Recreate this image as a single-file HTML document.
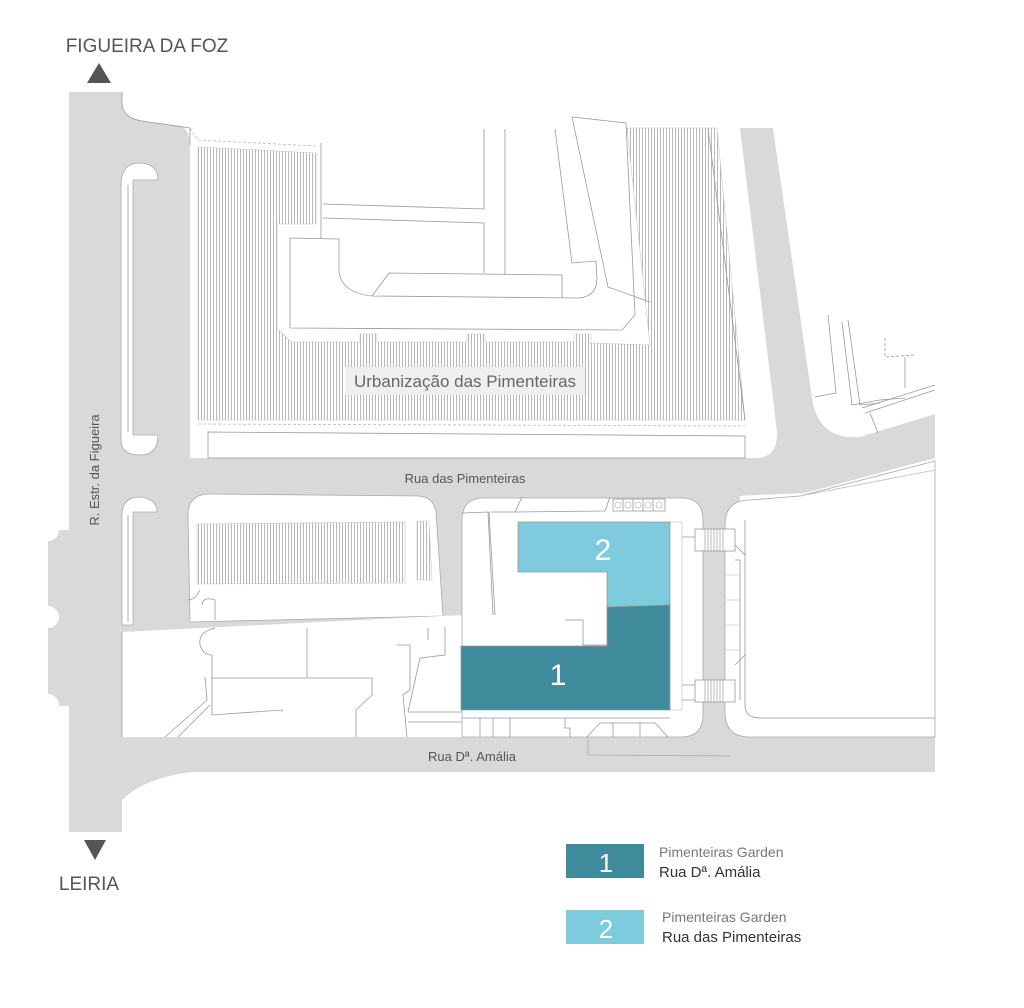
<!DOCTYPE html>
<html><head><meta charset="utf-8"><style>
html,body{margin:0;padding:0;background:#fff;}
svg{display:block;}
text{font-family:"Liberation Sans",sans-serif;}
</style></head><body>
<svg width="1024" height="1008" viewBox="0 0 1024 1008" xmlns="http://www.w3.org/2000/svg">
<defs>
<pattern id="h" width="3" height="10" patternUnits="userSpaceOnUse">
<rect x="0" y="0" width="1" height="10" fill="#b8b8b8"/>
</pattern>
</defs>
<rect width="1024" height="1008" fill="#fff"/>
<g fill="#d9d9d9" stroke="none">
<!-- west main road + parking strip -->
<path d="M69,92 H122 V104 Q123,118 142,121 L180,126 Q190,129 190,145 V630 L122,632 V832 H69 Z"/>
<rect x="48" y="530" width="22" height="176"/>
<!-- Rua das Pimenteiras -->
<rect x="122" y="458" width="620" height="38"/>
<rect x="122" y="458" width="350" height="175"/>
<rect x="430" y="490" width="310" height="282"/>
<!-- NE road -->
<path d="M740,128 L773,128 L812,398 Q818,440 860,437 L935,414 L935,458 L805,493 L712,497 L712,458 L758,458 Q778,456 777,432 Z"/>
<!-- Rua D. Amalia -->
<rect x="122" y="735" width="813" height="37"/>
<path d="M110,770 H220 Q150,772 122,800 L110,800 Z"/>
</g>
<!-- notches -->
<g fill="#fff">
<circle cx="48" cy="530" r="11"/><circle cx="48" cy="617" r="11"/><circle cx="48" cy="705" r="11"/>
</g>
<!-- white blocks -->
<g fill="#fff" stroke="#aaa" stroke-width="0.8">
<path d="M188,515 Q188,494 210,494 L418,496 Q434,497 436,512 L443,616 L190,622 Z"/>
<path d="M122,632 L440,616 L500,614 L500,737 L122,737 Z" stroke="none"/>
<path d="M484,498 L681,498 Q703,498 703,520 L703,714 Q703,737 681,737 L480,737 L462,737 L462,520 Q462,498 484,498 Z"/>
<path d="M725,525 Q725,500 750,500 L800,496 L935,461 V737 H750 Q725,737 725,712 Z"/>
<!-- upper island -->
<path d="M121,440 V185 Q121,163 140,163 Q158,164 158,180 L133,180 V435 L158,435 Q158,455 140,455 Q121,455 121,440 Z"/>
<!-- lower island -->
<path d="M122,625 V515 Q122,497 140,497 Q157,499 157,512 L133,512 V625 Z"/>
</g>
<g stroke="#999" stroke-width="0.8" fill="none">
<line x1="128" y1="185" x2="128" y2="432"/>
<line x1="128" y1="515" x2="128" y2="622"/>
<line x1="122" y1="632" x2="122" y2="737"/>
</g>
<!-- hatch areas -->
<path d="M198,147 L316,153 L316,224 L277,224 L277,328 L291,342 L360,342 L360,334 L377,334 L377,342 L467,342 L467,334 L485,334 L485,342 L574,342 L574,334 L591,334 L591,343 L650,345 L627,128 L717,128 L745,420 L198,420 Z" fill="url(#h)" stroke="#c8c8c8" stroke-width="0.6"/>
<path d="M197,524 L405,522 L405,583 L197,584 Z" fill="url(#h)" stroke="#c8c8c8" stroke-width="0.6"/>
<path d="M417,521 L429,521 L432,580 L417,580 Z" fill="url(#h)" stroke="#c8c8c8" stroke-width="0.6"/>
<!-- block A lines -->
<g stroke="#999" stroke-width="0.8" fill="none">
<path d="M122,92 V104 Q123,118 142,121 L190,128 V145"/>
<path d="M190,128 L198,140 M198,140 L316,146" stroke-dasharray="3,2" stroke="#bbb"/>
<path d="M321,143 V239"/>
<path d="M323,204 L484,209 V129"/>
<path d="M323,218 L484,223 V273"/>
<path d="M505,129 V275"/>
<path d="M290,238 L339,239 L339,272 Q342,293 372,296 L578,298 Q597,297 597,278 L596,261 L572,263 L555,129"/>
<path d="M290,238 V328 L622,330 L635,315 L626,123 L572,117 L608,287 L650,302"/>
<path d="M372,296 L389,273 L562,275 V298"/>
<path d="M208,432 L745,436 L745,458 L208,458 Z"/>
<path d="M198,424 L745,426" stroke-dasharray="3,2" stroke="#bbb"/>
<path d="M708,128 L745,420"/>
<!-- NE right area -->
<path d="M828,315 L836,393 L815,397"/>
<path d="M842,322 L852,405 L880,400 L905,398"/>
<path d="M848,320 L860,405 L880,403"/>
<path d="M885,338 V357 L915,355" stroke-dasharray="3,2"/>
<path d="M905,357 V388"/>
<path d="M862,408 L935,385 M865,413 L935,390"/>
<path d="M870,413 L878,433"/>
<path d="M800,496 L935,470" stroke="#bbb"/>
<!-- block C / E lines -->
<path d="M215,620 L215,600 Q203,596 202,605 M188,600 Q195,600 200,590"/>
<path d="M215,628 Q198,632 200,645 Q203,655 212,655 V678 L372,678 V695 L356,710 V737"/>
<path d="M307,628 V678"/>
<path d="M212,678 V715 L282,710 L282,712"/>
<path d="M205,677 L207,700 L165,737 M210,705 L178,737"/>
<path d="M397,645 L410,645 L410,690 L403,695 L407,737"/>
<path d="M445,627 L445,655 L420,658 L408,712 L462,712"/>
<path d="M408,722 L462,722"/>
<path d="M428,628 V640"/>
<!-- block B lines -->
<path d="M462,513 L488,512 L493,615 M489,512 L495,615"/>
<path d="M490,512 L515,512 L522,497 M515,512 L605,511 L610,497"/>
<path d="M565,620 L583,620 L583,645 L607,645"/>
<path d="M670,522 H682 V710 H670" stroke="#ccc"/>
<path d="M682,537 H695 M682,685 H695 M682,700 H695"/>
<path d="M462,718 H670 M480,718 V737 M493,718 V737 M510,718 V737 M565,718 V728 L570,728 V737"/>
<path d="M587,737 L600,723 H655 L668,737 M613,723 V737 M640,723 V737"/>
<path d="M588,737 V755 L730,756" stroke="#aaa"/>
<!-- crosswalks -->
<rect x="695" y="529" width="40" height="22" fill="#fff"/>
<rect x="695" y="680" width="40" height="22" fill="#fff"/>
<path d="M705,529 V551 M708,529 V551 M711,529 V551 M714,529 V551 M717,529 V551 M720,529 V551 M723,529 V551 M705,680 V702 M708,680 V702 M711,680 V702 M714,680 V702 M717,680 V702 M720,680 V702 M723,680 V702" stroke="#aaa"/>
<path d="M735,560 L740,560 M740,560 V700 M735,545 L745,555 M735,665 L745,655"/>
<path d="M740,575 H725 M740,600 H725 M740,625 H725 M740,650 H725" stroke="#ccc"/>
<path d="M745,520 V705 Q745,718 760,718 H935"/>
<!-- units boxes -->
<path d="M613,499 H665 V511 H613 Z M623,499 V511 M633,499 V511 M643,499 V511 M653,499 V511"/>
</g>
<g fill="none" stroke="#aaa" stroke-width="0.6">
<circle cx="618" cy="505" r="3"/><circle cx="628" cy="505" r="3"/><circle cx="638" cy="505" r="3"/><circle cx="648" cy="505" r="3"/><circle cx="659" cy="505" r="3"/>
</g>
<!-- colored units -->
<path d="M518,522 H670 V605 L607,607 V572 H518 Z" fill="#7ecbdd" stroke="#999" stroke-width="0.8"/>
<path d="M607,607 L670,605 V710 H461 V646 H607 Z" fill="#3f8b9b" stroke="#999" stroke-width="0.8"/>
<text x="603" y="560" font-size="30" fill="#fff" text-anchor="middle">2</text>
<text x="558" y="685" font-size="30" fill="#fff" text-anchor="middle">1</text>
<!-- labels -->
<rect x="345" y="367" width="240" height="28" fill="#efefef"/>
<text x="465" y="387" font-size="17" fill="#666" text-anchor="middle">Urbanização das Pimenteiras</text>
<text x="465" y="483" font-size="13" fill="#555" text-anchor="middle">Rua das Pimenteiras</text>
<text x="472" y="761" font-size="13" fill="#555" text-anchor="middle">Rua Dª. Amália</text>
<text transform="translate(99,470) rotate(-90)" font-size="13" fill="#555" text-anchor="middle">R. Estr. da Figueira</text>
<text x="147" y="52" font-size="19" fill="#555" text-anchor="middle">FIGUEIRA DA FOZ</text>
<path d="M87,83 L99,63 L111,83 Z" fill="#555"/>
<path d="M84,840 L106,840 L95,860 Z" fill="#555"/>
<text x="89" y="890" font-size="19" fill="#555" text-anchor="middle">LEIRIA</text>
<!-- legend -->
<rect x="566" y="844" width="78" height="34" fill="#3f8b9b"/>
<text x="606" y="872" font-size="26" fill="#fff" text-anchor="middle">1</text>
<text x="659" y="857" font-size="14" fill="#777">Pimenteiras Garden</text>
<text x="659" y="877" font-size="15" fill="#333">Rua Dª. Amália</text>
<rect x="566" y="910" width="78" height="34" fill="#7ecbdd"/>
<text x="606" y="938" font-size="26" fill="#fff" text-anchor="middle">2</text>
<text x="662" y="922" font-size="14" fill="#777">Pimenteiras Garden</text>
<text x="662" y="942" font-size="15" fill="#333">Rua das Pimenteiras</text>
</svg>
</body></html>
